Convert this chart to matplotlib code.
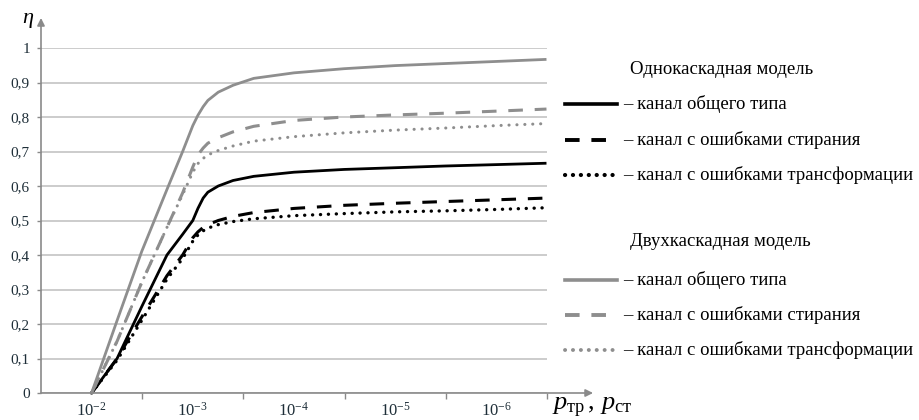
import matplotlib
matplotlib.use('Agg')
import matplotlib.pyplot as plt
from matplotlib.lines import Line2D
from matplotlib.ticker import FixedLocator, NullFormatter

plt.rcParams['font.family'] = ['Liberation Serif', 'DejaVu Serif']
plt.rcParams['mathtext.fontset'] = 'custom'
plt.rcParams['mathtext.rm'] = 'Liberation Serif'
plt.rcParams['mathtext.it'] = 'Liberation Serif:italic'
plt.rcParams['lines.scale_dashes'] = False

# error probability p (x axis runs from 1e-2 down to ~3e-7)
p = [1e-2, 5.6e-3, 3.2e-3, 1.8e-3, 1.26e-3, 1e-3, 8.9e-4, 7.9e-4, 7.1e-4,
     5.6e-4, 4e-4, 2.5e-4, 1e-4, 3.2e-5, 1e-5, 3.2e-6, 1e-6, 3.2e-7]

# single-cascade model (black)
one_general = [0, 0.10, 0.25, 0.40, 0.46, 0.50, 0.535, 0.565, 0.582,
               0.600, 0.616, 0.628, 0.640, 0.648, 0.653, 0.658, 0.662, 0.666]
one_erase = [0, 0.10, 0.22, 0.34, 0.40, 0.45, 0.467, 0.480, 0.488,
             0.500, 0.512, 0.523, 0.535, 0.544, 0.550, 0.555, 0.560, 0.565]
one_transf = [0, 0.095, 0.21, 0.33, 0.39, 0.44, 0.458, 0.470, 0.478,
              0.488, 0.497, 0.505, 0.514, 0.520, 0.525, 0.528, 0.532, 0.537]

# two-cascade model (gray)
two_general = [0, 0.21, 0.41, 0.59, 0.70, 0.775, 0.805, 0.830, 0.848,
               0.872, 0.892, 0.912, 0.928, 0.940, 0.949, 0.955, 0.961, 0.967]
two_erase = [0, 0.15, 0.32, 0.48, 0.58, 0.655, 0.690, 0.710, 0.724,
             0.740, 0.757, 0.773, 0.790, 0.800, 0.806, 0.811, 0.817, 0.823]
two_transf = [0, 0.15, 0.32, 0.48, 0.575, 0.640, 0.665, 0.680, 0.690,
              0.703, 0.716, 0.730, 0.743, 0.754, 0.762, 0.768, 0.775, 0.781]

x_ticks = [1e-2, 1e-3, 1e-4, 1e-5, 1e-6]
x_labels = ['$10^{-2}$', '$10^{-3}$', '$10^{-4}$', '$10^{-5}$', '$10^{-6}$']
y_ticks = [0, 0.1, 0.2, 0.3, 0.4, 0.5, 0.6, 0.7, 0.8, 0.9, 1.0]
y_labels = ['0', '0,1', '0,2', '0,3', '0,4', '0,5', '0,6', '0,7', '0,8', '0,9', '1']

labels = ['– канал общего типа', '– канал с ошибками стирания',
          '– канал с ошибками трансформации']

black = '#000000'
gray = '#8e8e8e'
axis_gray = '#8a8a8a'
dashed = (0, (10.5, 8.5))
dotted = (0, (0.1, 5.6))

styles = [
    (one_general, black, '-', 2.0),
    (one_erase, black, dashed, 2.2),
    (one_transf, black, dotted, 2.4),
    (two_general, gray, '-', 2.0),
    (two_erase, gray, dashed, 2.2),
    (two_transf, gray, dotted, 2.2),
]

W, H = 919, 420
fig = plt.figure(figsize=(W / 100, H / 100), dpi=100)
ax = fig.add_axes([41 / W, 27 / H, 506 / W, 345 / H])

for vals, c, ls, lw in styles:
    ax.plot(p, vals, color=c, linestyle=ls, lw=lw,
            dash_capstyle='round' if ls == dotted else 'butt',
            solid_capstyle='butt', solid_joinstyle='round', clip_on=False, zorder=3)

ax.set_xscale('log')
ax.set_xlim(10 ** -1.5, 10 ** -6.5)
ax.set_ylim(0, 1)
ax.set_xticks(x_ticks)
ax.set_xticklabels(x_labels)
ax.xaxis.set_minor_locator(FixedLocator([10 ** -2.5, 10 ** -3.5, 10 ** -4.5, 10 ** -5.5, 10 ** -6.5]))
ax.xaxis.set_minor_formatter(NullFormatter())
ax.tick_params(axis='x', which='major', length=0, pad=6, labelsize=12, labelcolor='#1e2e38')
ax.tick_params(axis='x', which='minor', length=4, width=1, color=axis_gray)
ax.set_yticks(y_ticks)
ax.set_yticklabels(y_labels)
ax.tick_params(axis='y', length=3, width=1, color=axis_gray, labelsize=11,
               labelcolor='#1e2e38', pad=5)
ax.grid(axis='y', color='#c4c4c4', lw=1.2)
ax.set_axisbelow(True)
for s in ax.spines.values():
    s.set_visible(False)

arrow = dict(arrowstyle='-|>', color=axis_gray, lw=1.2, shrinkA=0, shrinkB=0, mutation_scale=11)
ax.annotate('', xy=(0, 1.087), xytext=(0, 0), xycoords='axes fraction', arrowprops=arrow,
            annotation_clip=False)
ax.annotate('', xy=(1.091, 0), xytext=(0, 0), xycoords='axes fraction', arrowprops=arrow,
            annotation_clip=False)

fig.text(28 / W, 1 - 21 / H, r'$\eta$', fontsize=16, ha='center', va='center')
fig.text(552 / W, 1 - 408 / H, r'$p_{\mathrm{тр}}\,,\,p_{\mathrm{ст}}$', fontsize=19,
         ha='left', va='center')

# legend drawn by hand, two groups
groups = [('Однокаскадная модель', 69, [104, 140, 175], styles[:3]),
          ('Двухкаскадная модель', 242, [280, 315, 350], styles[3:])]
for title, ty, rows, st in groups:
    fig.text(630 / W, 1 - ty / H, title, fontsize=13.5, ha='left', va='center')
    for ry, lab, (vals, c, ls, lw) in zip(rows, labels, st):
        fig.add_artist(Line2D([565 / W, 617 / W], [1 - ry / H, 1 - ry / H], color=c,
                              linestyle=ls, lw=lw + 0.6, transform=fig.transFigure,
                              dash_capstyle='round' if ls == dotted else 'butt'))
        fig.text(623 / W, 1 - ry / H, lab, fontsize=13.5, ha='left', va='center')

fig.savefig('out.png', dpi=100)
